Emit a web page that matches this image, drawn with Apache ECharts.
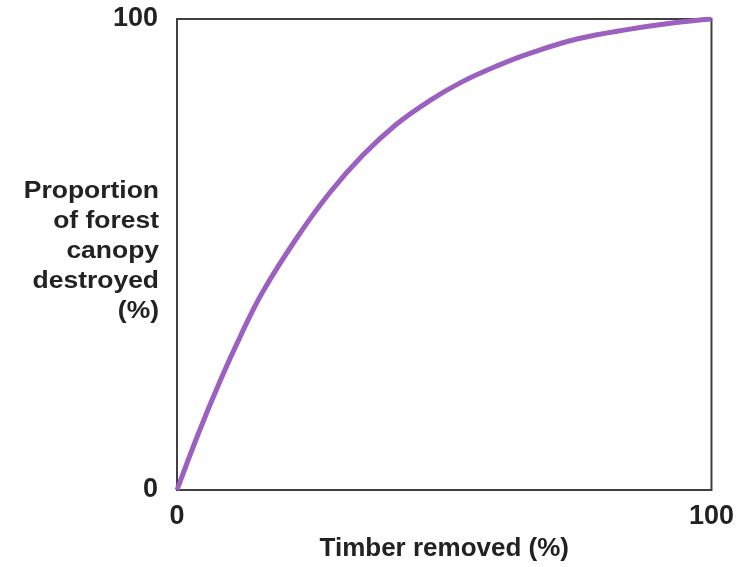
<!DOCTYPE html>
<html>
<head>
<meta charset="utf-8">
<script src="https://cdn.jsdelivr.net/npm/echarts@6/dist/echarts.min.js"></script>
<style>
  html, body { margin: 0; padding: 0; background: #fff; }
  #chart { width: 737px; height: 567px; }
</style>
</head>
<body>
<div id="chart"></div>
<script>
// 曲线数据
const timberRemoved = [0, 4, 8, 12, 16, 22.4, 28.5, 34.7, 41, 47.2, 53.4, 60, 66, 75, 84.5, 93.8, 100]
const canopyDestroyed = [0, 12, 23, 33, 42, 53.5, 63, 71, 77.6, 82.6, 86.7, 90.1, 92.7, 95.8, 97.8, 99.3, 100]
const axisTicks = [0, 100]
const yNameLines = ['Proportion', 'of forest', 'canopy', 'destroyed', '(%)']

let chart = echarts.init(document.getElementById('chart'))
const font = 'Liberation Sans, Arial, sans-serif'

chart.setOption({
    animation: false,
    grid: {
        left: 177,
        top: 19,
        width: 536,
        height: 471,
        show: true,
        borderColor: '#404040',
        borderWidth: 2,
    },
    xAxis: {
        type: 'value',
        min: axisTicks[0],
        max: axisTicks[1],
        interval: 100,
        name: 'Timber removed (%)',
        nameLocation: 'middle',
        nameGap: 46,
        nameTextStyle: { fontFamily: font, fontWeight: 'bold', fontSize: 26, color: '#222' },
        axisLine: { show: false },
        axisTick: { show: false },
        splitLine: { show: false },
        axisLabel: { margin: 13, fontFamily: font, fontWeight: 'bold', fontSize: 27, color: '#222' },
    },
    yAxis: {
        type: 'value',
        min: axisTicks[0],
        max: axisTicks[1],
        interval: 100,
        axisLine: { show: false },
        axisTick: { show: false },
        splitLine: { show: false },
        axisLabel: { margin: 19, fontFamily: font, fontWeight: 'bold', fontSize: 27, color: '#222' },
    },
    // 纵轴标题，多行右对齐
    graphic: [{
        type: 'text',
        x: 159,
        y: 177,
        scaleX: 1.15,
        style: {
            text: yNameLines.join('\n'),
            font: 'bold 23px ' + font,
            fill: '#222',
            textAlign: 'right',
            align: 'right',
            lineHeight: 30,
        },
    }],
    series: [{
        type: 'line',
        smooth: 0.4,
        symbol: 'none',
        lineStyle: { color: '#9c60c0', width: 5 },
        data: timberRemoved.map((x, i) => [x, canopyDestroyed[i]]),
    }],
})
</script>
</body>
</html>
